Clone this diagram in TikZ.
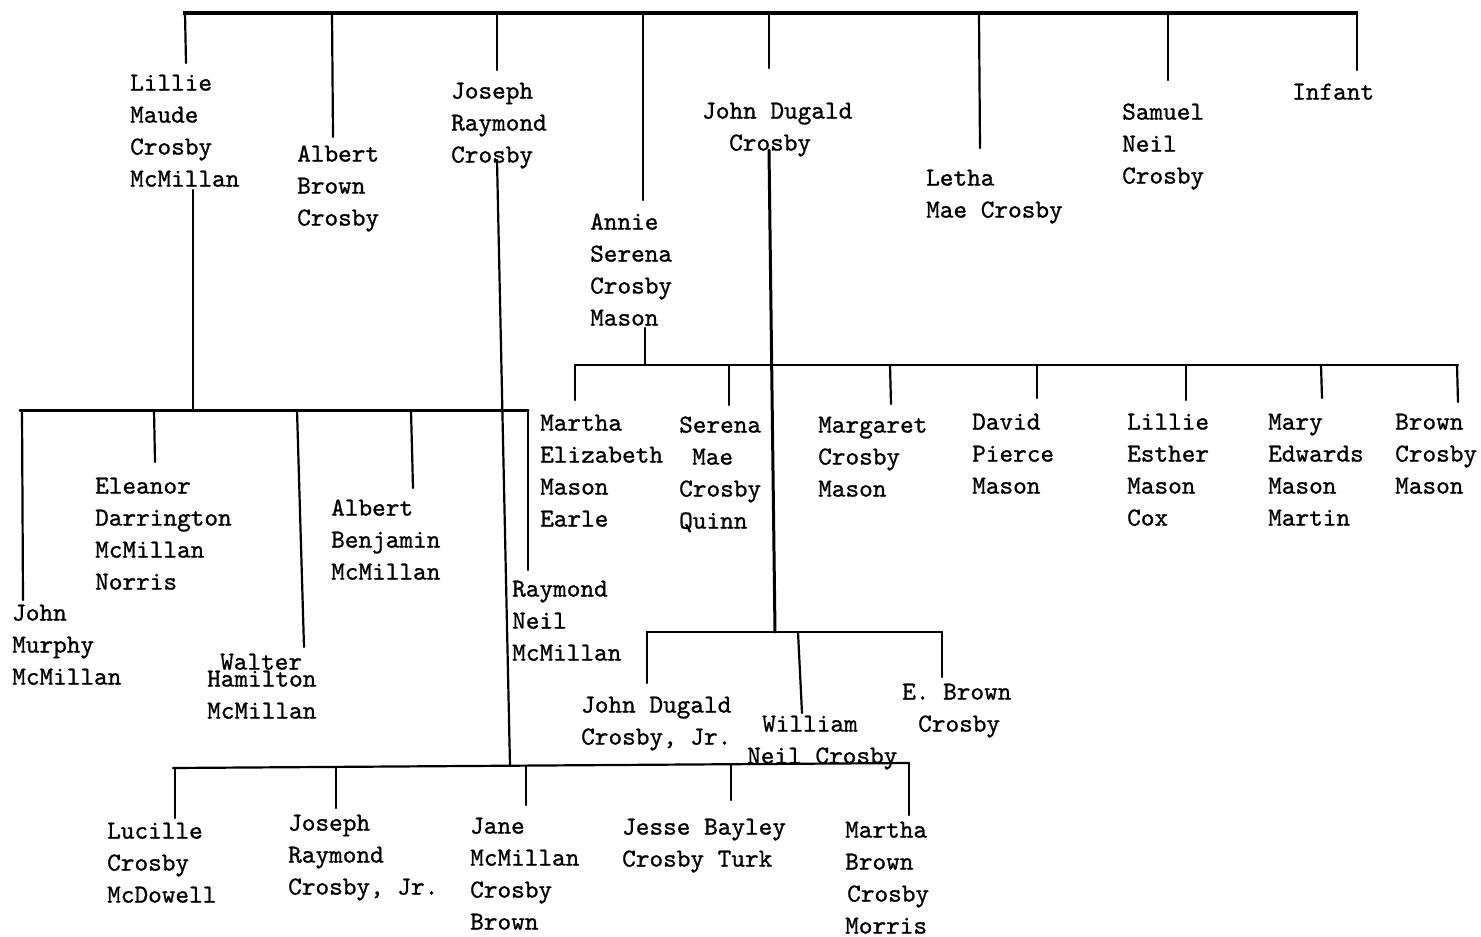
\documentclass[tikz,border=0pt]{standalone}
\usepackage{fontspec}
\newfontfamily\typew{lmmono10-regular.otf}[FakeBold=0.9]
\begin{document}
\begin{tikzpicture}[x=1pt,y=-1pt,
  nm/.style={anchor=north west,inner sep=0pt,align=left,font=\fontsize{26}{32}\selectfont\typew},
  ln/.style={line width=2.2pt,line cap=round},
  barln/.style={line width=3pt,line cap=round}]
\useasboundingbox[fill=white] (0,0) rectangle (1481,937);

% ---- generation 1 (top row)
\node[nm] (lillie)  at (130,68)  {\strut Lillie\\Maude\\Crosby\\McMillan};
\node[nm] (albert)  at (297,139) {\strut Albert\\Brown\\Crosby};
\node[nm] (joseph)  at (451,76)  {\strut Joseph\\Raymond\\Crosby};
\node[nm] (annie)   at (590,207) {\strut Annie\\Serena\\Crosby\\Mason};
\node[nm] (johnd)   at (702,96)  {\strut John Dugald\\\hspace*{27pt}Crosby};
\node[nm] (letha)   at (926,163) {\strut Letha\\Mae Crosby};
\node[nm] (samuel)  at (1122,97) {\strut Samuel\\Neil\\Crosby};
\node[nm] (infant)  at (1292,77) {\strut Infant};

% ---- McMillan children
\node[nm] (johnm)   at (12,598)  {\strut John\\Murphy\\McMillan};
\node[nm] (eleanor) at (95,471)  {\strut Eleanor\\Darrington\\McMillan\\Norris};
\node[nm] (waltera) at (220,647) {\strut Walter};
\node[nm] (walterb) at (207,664) {\strut Hamilton\\McMillan};
\node[nm] (albertb) at (331,493) {\strut Albert\\Benjamin\\McMillan};
\node[nm] (raymond) at (512,574) {\strut Raymond\\Neil\\McMillan};

% ---- Mason children
\node[nm] (marthae) at (540,408) {\strut Martha\\Elizabeth\\Mason\\Earle};
\node[nm] (serena)  at (679,410) {\strut Serena\\\hspace*{13pt}Mae\\Crosby\\Quinn};
\node[nm] (margaret) at (818,410) {\strut Margaret\\Crosby\\Mason};
\node[nm] (david)   at (972,407) {\strut David\\Pierce\\Mason};
\node[nm] (lilliee) at (1127,407) {\strut Lillie\\Esther\\Mason\\Cox};
\node[nm] (mary)    at (1268,407) {\strut Mary\\Edwards\\Mason\\Martin};
\node[nm] (brown)   at (1395,407) {\strut Brown\\Crosby\\Mason};

% ---- John Dugald's children
\node[nm] (jdjr)    at (581,690) {\strut John Dugald\\Crosby, Jr.};
\node[nm] (william) at (747,709) {\strut\hspace*{15pt}William\\Neil Crosby};
\node[nm] (ebrown)  at (902,677) {\strut E. Brown\\\hspace*{16pt}Crosby};

% ---- Joseph's children
\node[nm] (lucille) at (107,816) {\strut Lucille\\Crosby\\McDowell};
\node[nm] (josephjr) at (288,808) {\strut Joseph\\Raymond\\Crosby, Jr.};
\node[nm] (jane)    at (470,811) {\strut Jane\\McMillan\\Crosby\\Brown};
\node[nm] (jesse)   at (622,812) {\strut Jesse Bayley\\Crosby Turk};
\node[nm] (marthab) at (845,815) {\strut Martha\\Brown\\\hspace*{2pt}Crosby\\Morris};

% ---- bars
\coordinate (topL) at (183,13);   \coordinate (topR) at (1358,13);
\draw[line width=3.5pt] (topL) -- (topR);
\coordinate (mcL) at (20,410);    \coordinate (mcR) at (528,410);
\draw[barln] (mcL) -- (mcR);
\coordinate (maL) at (575,365);   \coordinate (maR) at (1458,365);
\draw[ln] (maL) -- (maR);
\coordinate (jdL) at (647,632);   \coordinate (jdR) at (942,632);
\draw[ln] (jdL) -- (jdR);
\coordinate (joL) at (173,768);   \coordinate (joR) at (909,763);
\draw[ln] (joL) -- (joR);

% ---- drops (name / x1 / y1 / x2 / y2)
\foreach \n/\xa/\ya/\xb/\yb in {
  tA/185/13/186/63, tB/332/13/333/137, tC/497/13/497/70, tD/643/13/643/200,
  tE/769/13/769/68, tF/979/13/980/148, tG/1168/13/1168/80, tH/1357/13/1357/70,
  lm/193/190/193/410,
  mA/22/410/23/600, mB/154/410/155/462, mC/297/410/304/647, mD/411/410/413/488, mE/528/410/528/570,
  an/645/328/645/365,
  sA/575/365/575/400, sB/729/365/729/405, sC/890/365/891/404, sD/1037/365/1037/398,
  sE/1186/365/1186/400, sF/1321/365/1322/398, sG/1457/365/1458/402,
  jA/647/632/647/683, jB/798/632/802/713, jC/942/632/942/677,
  oA/175/768/175/818, oB/336/767/336/808, oC/526/766/526/805, oD/731/765/731/800, oE/909/763/909/815}
{
  \coordinate (\n a) at (\xa,\ya);
  \coordinate (\n b) at (\xb,\yb);
  \draw[ln] (\n a) -- (\n b);
}
% long parent lines
\coordinate (jsTop) at (497,160); \coordinate (jsBot) at (510,766);
\draw[ln] (jsTop) -- (jsBot);
\coordinate (jdTop) at (769,150); \coordinate (jdBot) at (775,632);
\draw[barln] (jdTop) -- (jdBot);
\end{tikzpicture}
\end{document}
